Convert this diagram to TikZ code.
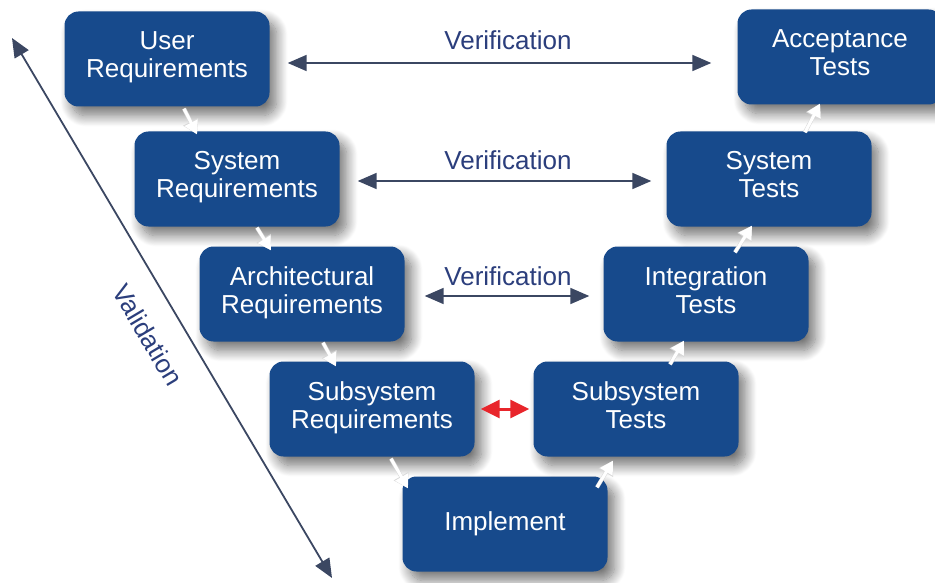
\documentclass[tikz,border=0pt]{standalone}
\usepackage{fontspec}
\setmainfont{Liberation Sans}
\usepackage{tikz}
\usetikzlibrary{calc,arrows.meta,shadows.blur}
\definecolor{boxblue}{HTML}{174A8C}
\definecolor{slate}{HTML}{3B4762}
\definecolor{valblue}{HTML}{2B3E7C}
\definecolor{hot}{HTML}{E8252B}
\tikzset{
  stage/.style={rounded corners=14pt, fill=boxblue, text=white, minimum width=205pt, minimum height=95pt,
    align=center, font=\fontsize{26}{28}\selectfont,
    blur shadow={shadow xshift=7pt, shadow yshift=-9pt, shadow blur steps=14, shadow blur radius=11pt, shadow opacity=55}},
  verif/.style={draw=slate, line width=1.8pt, {Triangle[length=19pt,width=16pt]}-{Triangle[length=19pt,width=16pt]}},
  flow/.style={draw=white, line width=3pt, -{Triangle[length=13pt,width=14pt]}},
  flowedge/.style={draw=black!15, line width=4pt, -{Triangle[length=14pt,width=16pt]}},
  hotpair/.style={draw=hot, line width=3pt, {Triangle[length=19pt,width=18pt]}-{Triangle[length=19pt,width=18pt]}},
  lab/.style={text=valblue, font=\fontsize{26}{28}\selectfont},
}
\begin{document}
\begin{tikzpicture}[x=1pt,y=-1pt]
  \useasboundingbox (0,0) rectangle (935,583);

  % left leg
  \node[stage] (ur) at (167,59)  {User\\Requirements\strut};
  \node[stage] (sr) at (237,179) {System\\Requirements\strut};
  \node[stage] (ar) at (302,294) {Architectural\\Requirements\strut};
  \node[stage] (br) at (372,409) {Subsystem\\Requirements\strut};
  \node[stage] (im) at (505,524) {Implement};
  % right leg
  \node[stage] (bt) at (636,409) {Subsystem\\Tests\strut};
  \node[stage] (it) at (706,294) {Integration\\Tests\strut};
  \node[stage] (st) at (769,179) {System\\Tests\strut};
  \node[stage] (at) at (840,57)  {Acceptance\\Tests\strut};

  % verification
  \draw[verif, shorten <=18pt, shorten >=26pt] ($(ur.east)+(0,4)$) -- ($(at.west)+(0,6)$);
  \draw[verif, shorten <=18pt, shorten >=15pt] ($(sr.east)+(0,2)$) -- ($(st.west)+(0,2)$);
  \draw[verif, shorten <=20pt, shorten >=14pt] ($(ar.east)+(0,2)$) -- ($(it.west)+(0,2)$);
  \draw[hotpair, shorten <=6pt, shorten >=4pt] (br.east) -- (bt.west);
  \node[lab] (v1) at (508,40)  {Verification};
  \node[lab] (v2) at (508,160) {Verification};
  \node[lab] (v3) at (508,276) {Verification};

  % flow between stages
  \def\flowlist{{($(ur.south)+(17,2)$)}/{($(sr.north)+(-40,3)$)},
                {($(sr.south)+(20,1)$)}/{($(ar.north)+(-31,4)$)},
                {($(ar.south)+(21,1)$)}/{($(br.north)+(-36,5)$)},
                {($(br.south)+(19,2)$)}/{($(im.north)+(-97,12)$)},
                {($(im.north)+(92,11)$)}/{($(bt.south)+(-23,4)$)},
                {($(bt.north)+(34,3)$)}/{($(it.south)+(-22,-1)$)},
                {($(it.north)+(29,6)$)}/{($(st.south)+(-17,-1)$)},
                {($(st.north)+(36,1)$)}/{($(at.south)+(-20,-1)$)}}
  \foreach \a/\b in \flowlist
    \draw[flowedge] \a -- \b;
  \foreach \a/\b in \flowlist
    \draw[flow] \a -- \b;

  % validation
  \coordinate (va) at (12,38);
  \coordinate (vb) at (332,578);
  \draw[verif] (va) -- (vb);
  \node[lab, rotate=-59.3] (val) at (148,335) {Validation};
\end{tikzpicture}
\end{document}
